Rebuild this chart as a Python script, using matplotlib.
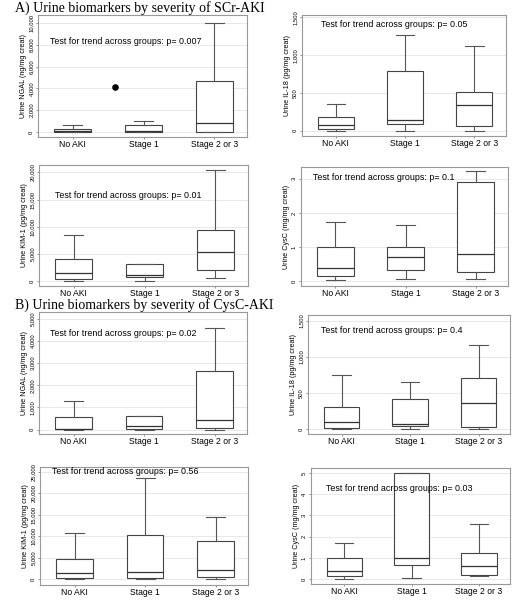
import matplotlib
matplotlib.use('Agg')
import matplotlib.pyplot as plt

groups = ['No AKI', 'Stage 1', 'Stage 2 or 3']

# box stats per group: low whisker, q1, median, q3, high whisker
ngal_scr = [[0, 10, 60, 273, 636], [0, 30, 90, 636, 1030], [0, 30, 818, 4650, 9990]]
il18_scr = [[0, 22, 70, 180, 352], [0, 88, 145, 792, 1267], [0, 66, 339, 510, 1117]]
kim1_scr = [[60, 370, 1520, 4090, 8540], [120, 730, 1100, 3110, 3110], [610, 2070, 5370, 9390, 20430]]
cysc_scr = [[0.05, 0.17, 0.39, 1.0, 1.72], [0.06, 0.33, 0.71, 1.0, 1.66], [0.07, 0.27, 0.81, 2.89, 3.21]]

ngal_cys = [[0, 10, 40, 570, 1275], [0, 20, 150, 605, 605], [0, 90, 445, 2650, 4590]]
il18_cys = [[0, 18, 100, 311, 745], [0, 46, 73, 421, 649], [0, 37, 366, 709, 1157]]
kim1_cys = [[0, 300, 1515, 4620, 10830], [0, 380, 1740, 10230, 23480], [0, 530, 2200, 9015, 14545]]
cysc_cys = [[0.03, 0.17, 0.41, 0.98, 1.71], [0.08, 0.67, 0.98, 5.0, 5.0], [0.14, 0.18, 0.64, 1.24, 2.58]]

ngal_scr_outlier_x = [0.6]
ngal_scr_outlier_y = [4145]

p_values = ['0.007', '0.05', '0.01', '0.1', '0.02', '0.4', '0.56', '0.03']


def DrawBoxes(rect, stats, ylim, yticks, ylabel, pval, txtpos):
    l, r, t, b = rect
    ax = fig.add_axes([l / 517, 1 - b / 600, (r - l) / 517, (b - t) / 600])
    bx = []
    for i in range(len(stats)):
        s = stats[i]
        bx.append({'whislo': s[0], 'q1': s[1], 'med': s[2], 'q3': s[3], 'whishi': s[4],
                   'fliers': [], 'label': groups[i]})
    ax.bxp(bx, positions=range(len(bx)), widths=0.52, capwidths=0.27, showfliers=False,
           patch_artist=True,
           boxprops=dict(facecolor='white', edgecolor='#444444', linewidth=0.8),
           medianprops=dict(color='#333333', linewidth=0.9),
           whiskerprops=dict(color='#555555', linewidth=0.8),
           capprops=dict(color='#555555', linewidth=0.8))
    ax.set_xlim(-0.49, 2.46)
    ax.set_ylim(ylim)
    ax.set_yticks(yticks)
    ax.set_yticklabels(['{:,}'.format(v) for v in yticks], rotation=90, va='center', fontsize=4.2)
    ax.set_xticks(range(len(groups)))
    ax.set_xticklabels(groups, fontsize=6.2)
    ax.tick_params(axis='both', length=1.5, width=0.5, color='#666666', pad=1.5)
    ax.tick_params(axis='x', pad=0.8)
    ax.set_ylabel(ylabel, fontsize=5.2, labelpad=1.5)
    ax.yaxis.grid(True, color='#e4e4e4', linewidth=0.6)
    ax.set_axisbelow(True)
    for sp in ax.spines.values():
        sp.set_color('#999999')
        sp.set_linewidth(0.8)
    ax.text(txtpos[0], txtpos[1], 'Test for trend across groups: p= ' + pval,
            transform=ax.transAxes, fontsize=6.4, va='center', ha='left')
    return ax


plt.rcParams['font.family'] = ['Liberation Sans', 'DejaVu Sans']
fig = plt.figure(figsize=(5.17, 6.0), dpi=100)

a1 = DrawBoxes((38, 247, 15, 137), ngal_scr, (-470, 10760), list(range(0, 10001, 2000)),
               'Urine NGAL (ng/mg creat)', p_values[0], (0.057, 0.78))
a1.scatter(ngal_scr_outlier_x, ngal_scr_outlier_y, s=14, color='black', zorder=5)
DrawBoxes((302, 506, 15, 136), il18_scr, (-70, 1531), [0, 500, 1000, 1500],
          'Urine IL-18 (pg/mg creat)', p_values[1], (0.093, 0.92))
DrawBoxes((39, 248, 165, 286), kim1_scr, (-860, 21340), list(range(0, 20001, 5000)),
          'Urine KIM-1 (pg/mg creat)', p_values[2], (0.077, 0.75))
DrawBoxes((301, 508, 167, 286), cysc_scr, (-0.135, 3.34), [0, 1, 2, 3],
          'Urine CysC (mg/mg creat)', p_values[3], (0.058, 0.91))

DrawBoxes((39, 247, 312, 434), ngal_cys, (-200, 5300), list(range(0, 5001, 1000)),
          'Urine NGAL (ng/mg creat)', p_values[4], (0.055, 0.82))
DrawBoxes((308, 510, 315, 434), il18_cys, (-65, 1577), [0, 500, 1000, 1500],
          'Urine IL-18 (pg/mg creat)', p_values[5], (0.064, 0.87))
DrawBoxes((40, 248, 467, 585), kim1_cys, (-1350, 26140), list(range(0, 25001, 5000)),
          'Urine KIM-1 (pg/mg creat)', p_values[6], (0.058, 0.965))
DrawBoxes((311, 510, 468, 584), cysc_cys, (-0.22, 5.23), [0, 1, 2, 3, 4, 5],
          'Urine CysC (mg/mg creat)', p_values[7], (0.075, 0.82))

fig.text(15 / 517, 1 - 8 / 600, 'A) Urine biomarkers by severity of SCr-AKI',
         family='Liberation Serif', fontsize=10, va='center', ha='left')
fig.text(15 / 517, 1 - 305 / 600, 'B) Urine biomarkers by severity of CysC-AKI',
         family='Liberation Serif', fontsize=10, va='center', ha='left')

fig.savefig('out.png', dpi=100)
